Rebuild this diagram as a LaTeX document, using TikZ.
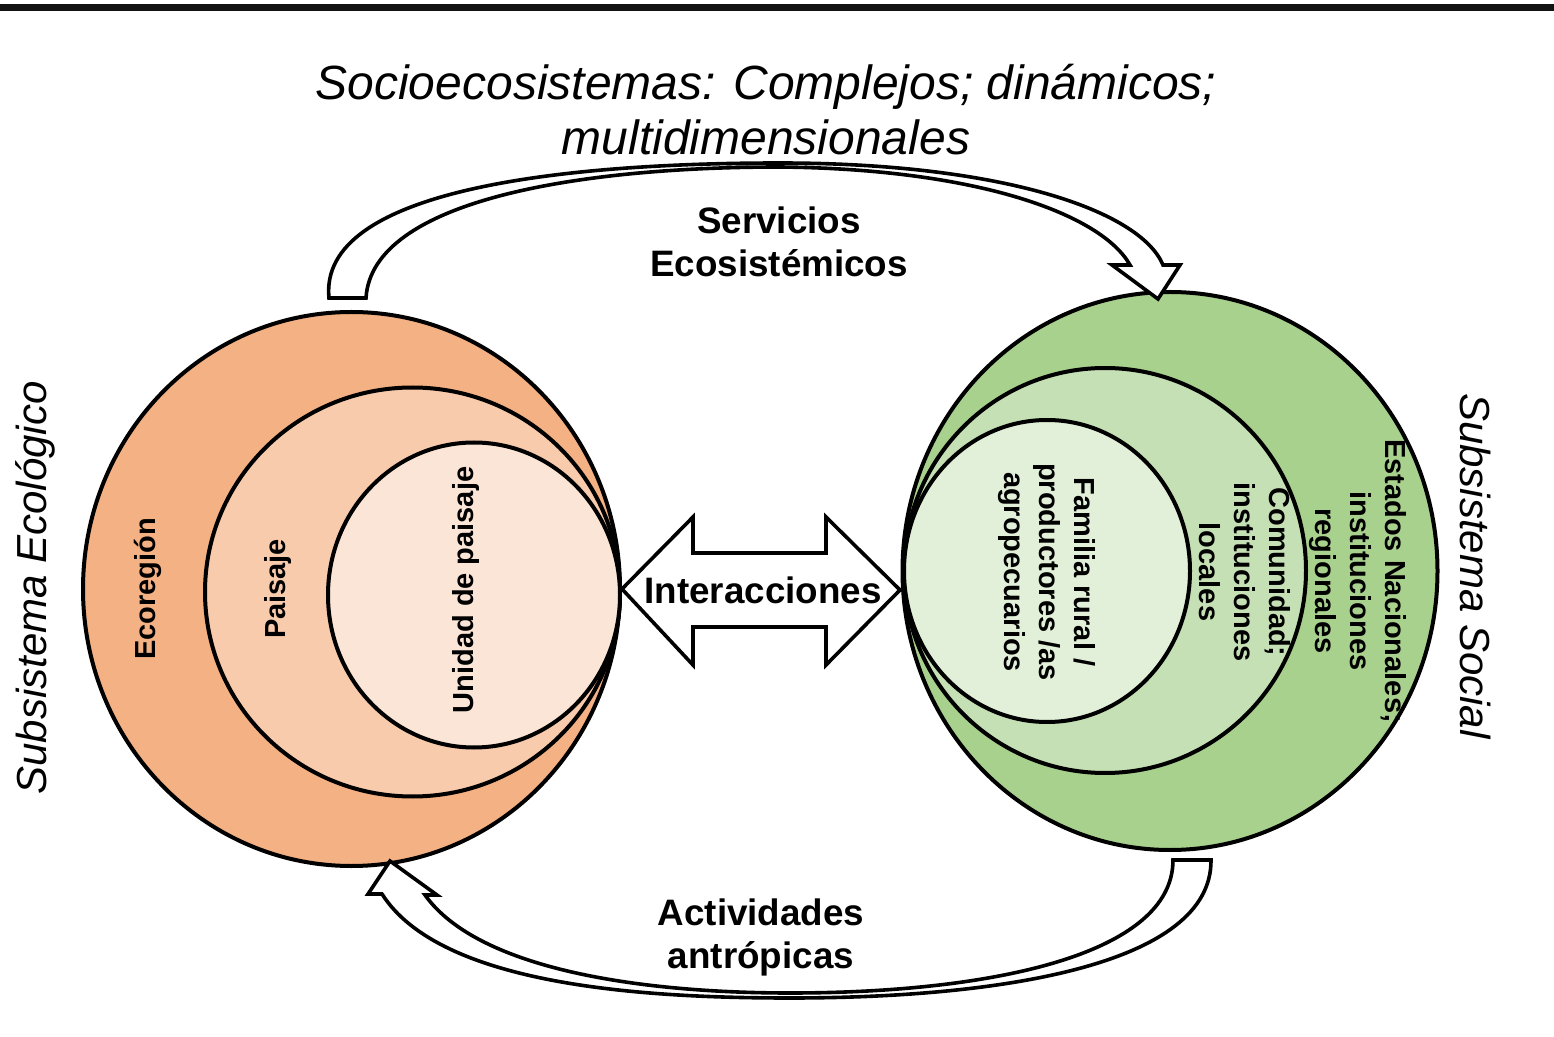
\documentclass[tikz,border=0pt]{standalone}
\usepackage{fontspec}
\setmainfont{Liberation Sans}
\usetikzlibrary{positioning,shapes.geometric}
\definecolor{ecoA}{HTML}{F4B183}
\definecolor{ecoB}{HTML}{F8CBAD}
\definecolor{ecoC}{HTML}{FBE5D6}
\definecolor{socA}{HTML}{A9D18E}
\definecolor{socB}{HTML}{C5E0B4}
\definecolor{socC}{HTML}{E2F0D9}
\tikzset{ring/.style = {ellipse, draw, line width=2pt, inner sep=0pt}}
\tikzset{blockarrow/.style = {draw, fill=white, line width=1.8pt, line join=miter}}
\tikzset{lbl/.style = {font=\bfseries\fontsize{18.4}{21.5}\selectfont, align=center, inner sep=0pt}}
\tikzset{circlbl/.style = {font=\bfseries\fontsize{14.5}{17.5}\selectfont, align=center, inner sep=0pt}}
\tikzset{sidelbl/.style = {font=\itshape\fontsize{21}{25}\selectfont, inner sep=0pt}}

\begin{document}
\begin{tikzpicture}[x=0.5pt, y=-0.5pt]
  \useasboundingbox (0,0) rectangle (1554,1037);
  \draw[line width=3.5pt, black!93] (0,8) -- (1554,8);
  % title
  \node[font=\itshape\fontsize{24}{27.5}\selectfont, align=center, inner sep=0pt]
    (title) at (766,110) {Socioecosistemas: Complejos; dinámicos;\\multidimensionales};
  % ecological subsystem
  \node[ring, fill=ecoA, minimum width=268.5pt, minimum height=277pt] (ecoregion) at (351.5,589) {};
  \node[ring, fill=ecoB, minimum width=207.5pt, minimum height=204.5pt] (paisaje) at (412.5,592) {};
  \node[ring, fill=ecoC, minimum width=146pt, minimum height=152.5pt] (unidad) at (474,595) {};
  \node[circlbl, rotate=90] (t-eco) at (148,589) {Ecoregión};
  \node[circlbl, rotate=90] (t-pai) at (278,589) {Paisaje};
  \node[circlbl, rotate=90] (t-uni) at (466,590) {Unidad de paisaje};
  % social subsystem
  \node[ring, fill=socA, minimum width=267.5pt, minimum height=279pt] (estados) at (1170,571) {};
  \node[ring, fill=socB, minimum width=201pt, minimum height=202.5pt] (comunidad) at (1105,570.5) {};
  \node[ring, fill=socC, minimum width=143pt, minimum height=151pt] (familia) at (1047,571) {};
  \node[circlbl, rotate=-90] (t-fam) at (1047,572) {Familia rural /\\productores /as\\agropecuarios};
  \node[circlbl, rotate=-90] (t-com) at (1245,572) {Comunidad;\\instituciones\\locales};
  \node[circlbl, rotate=-90] (t-est) at (1358,581) {Estados Nacionales;\\instituciones\\regionales};
  % side labels
  \node[sidelbl, rotate=90] (sub-eco) at (35,588) {Subsistema Ecológico};
  \node[sidelbl, rotate=-90] (sub-soc) at (1475,566) {Subsistema Social};
  % interactions
  \coordinate (inter-r) at (900,590);
  \draw[blockarrow] (ecoregion.east) -- (693,517) -- (693,553) -- (826,553) -- (826,517)
    -- (inter-r) -- (826,665) -- (826,627) -- (693,627) -- (693,665) -- cycle;
  \node[lbl] (inter) at (763,590) {Interacciones};
  % ecosystem services
  \coordinate (serv-tip) at (1158,299);
  \draw[blockarrow] (329,298) .. controls (318,190) and (560,163) .. (780,163)
    .. controls (1000,163) and (1140,210) .. (1163,265) -- (1180,265) -- (serv-tip)
    -- (1112,265) -- (1130,265) .. controls (1102,215) and (980,169) .. (780,167)
    .. controls (580,167) and (372,200) .. (366,298) -- cycle;
  \node[lbl] (servicios) at (779,242) {Servicios\\Ecosistémicos};
  % anthropic activities
  \coordinate (act-tip) at (390,861);
  \draw[blockarrow] (1211,860) .. controls (1212,965) and (1000,998) .. (790,998)
    .. controls (640,998) and (440,985) .. (382,894) -- (368,894) -- (act-tip)
    -- (437,895) -- (425,895) .. controls (480,972) and (650,993) .. (790,993)
    .. controls (990,993) and (1173,955) .. (1173,860) -- cycle;
  \node[lbl] (actividades) at (761,937) {Actividades\\antrópicas};
\end{tikzpicture}
\end{document}
